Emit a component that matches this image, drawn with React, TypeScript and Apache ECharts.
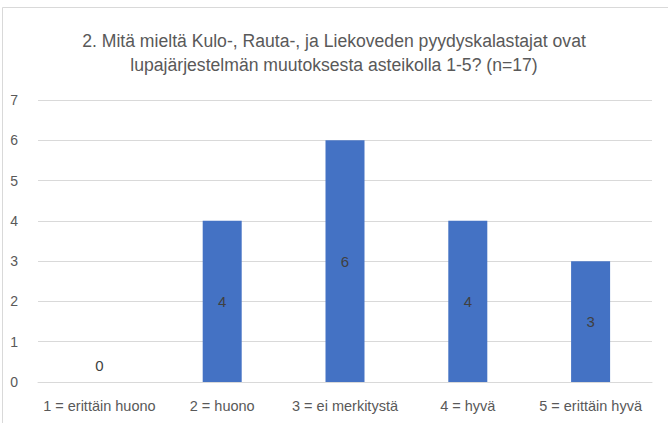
import React, { useEffect, useRef } from "react";
import * as echarts from "echarts";

const categories = ["1 = erittäin huono", "2 = huono", "3 = ei merkitystä", "4 = hyvä", "5 = erittäin hyvä"];
const values = [0, 4, 6, 4, 3];
const yTicks = [0, 1, 2, 3, 4, 5, 6, 7];
const titleLines = [
  "2. Mitä mieltä Kulo-, Rauta-, ja Liekoveden pyydyskalastajat ovat",
  "lupajärjestelmän muutoksesta asteikolla 1-5? (n=17)",
];

const FONT = "'Liberation Sans', sans-serif";

export default function App() {
  const ref = useRef<HTMLDivElement>(null);
  useEffect(() => {
    const chart = echarts.init(ref.current!, null, { renderer: "svg" });
    chart.setOption({
      animation: false,
      backgroundColor: "#ffffff",
      textStyle: { fontFamily: FONT },
      title: {
        text: titleLines.join("\n"),
        left: "center",
        top: 24,
        textStyle: {
          fontFamily: FONT,
          fontSize: 17.6,
          fontWeight: "normal",
          color: "#595959",
          lineHeight: 24,
        },
      },
      graphic: [
        {
          type: "rect",
          shape: { x: 2.5, y: 7.5, width: 700, height: 500 },
          style: { fill: "none", stroke: "#d9d9d9", lineWidth: 1 },
          silent: true,
        },
      ],
      grid: { left: 38, right: 16, top: 100, bottom: 41, containLabel: false },
      xAxis: {
        type: "category",
        data: categories,
        axisLine: { lineStyle: { color: "#d9d9d9", width: 1 } },
        axisTick: { show: false },
        axisLabel: { color: "#595959", fontSize: 14.5, fontFamily: FONT, margin: 16, interval: 0 },
      },
      yAxis: {
        type: "value",
        min: yTicks[0],
        max: yTicks[yTicks.length - 1],
        interval: 1,
        axisLine: { show: false },
        axisTick: { show: false },
        axisLabel: { color: "#595959", fontSize: 14, fontFamily: FONT, margin: 20 },
        splitLine: { lineStyle: { color: "#d9d9d9", width: 1 } },
      },
      series: [
        {
          type: "bar",
          data: values.map((v) =>
            v === 0 ? { value: v, label: { position: "top", distance: 9 } } : v
          ),
          barWidth: 39,
          itemStyle: { color: "#4472c4" },
          label: {
            show: true,
            position: "inside",
            color: "#404040",
            fontSize: 15,
            fontFamily: FONT,
          },
        },
      ],
    });
    return () => chart.dispose();
  }, []);
  return (
    <div
      ref={ref}
      style={{ position: "fixed", left: 0, top: 0, width: 668, height: 423 }}
    />
  );
}
